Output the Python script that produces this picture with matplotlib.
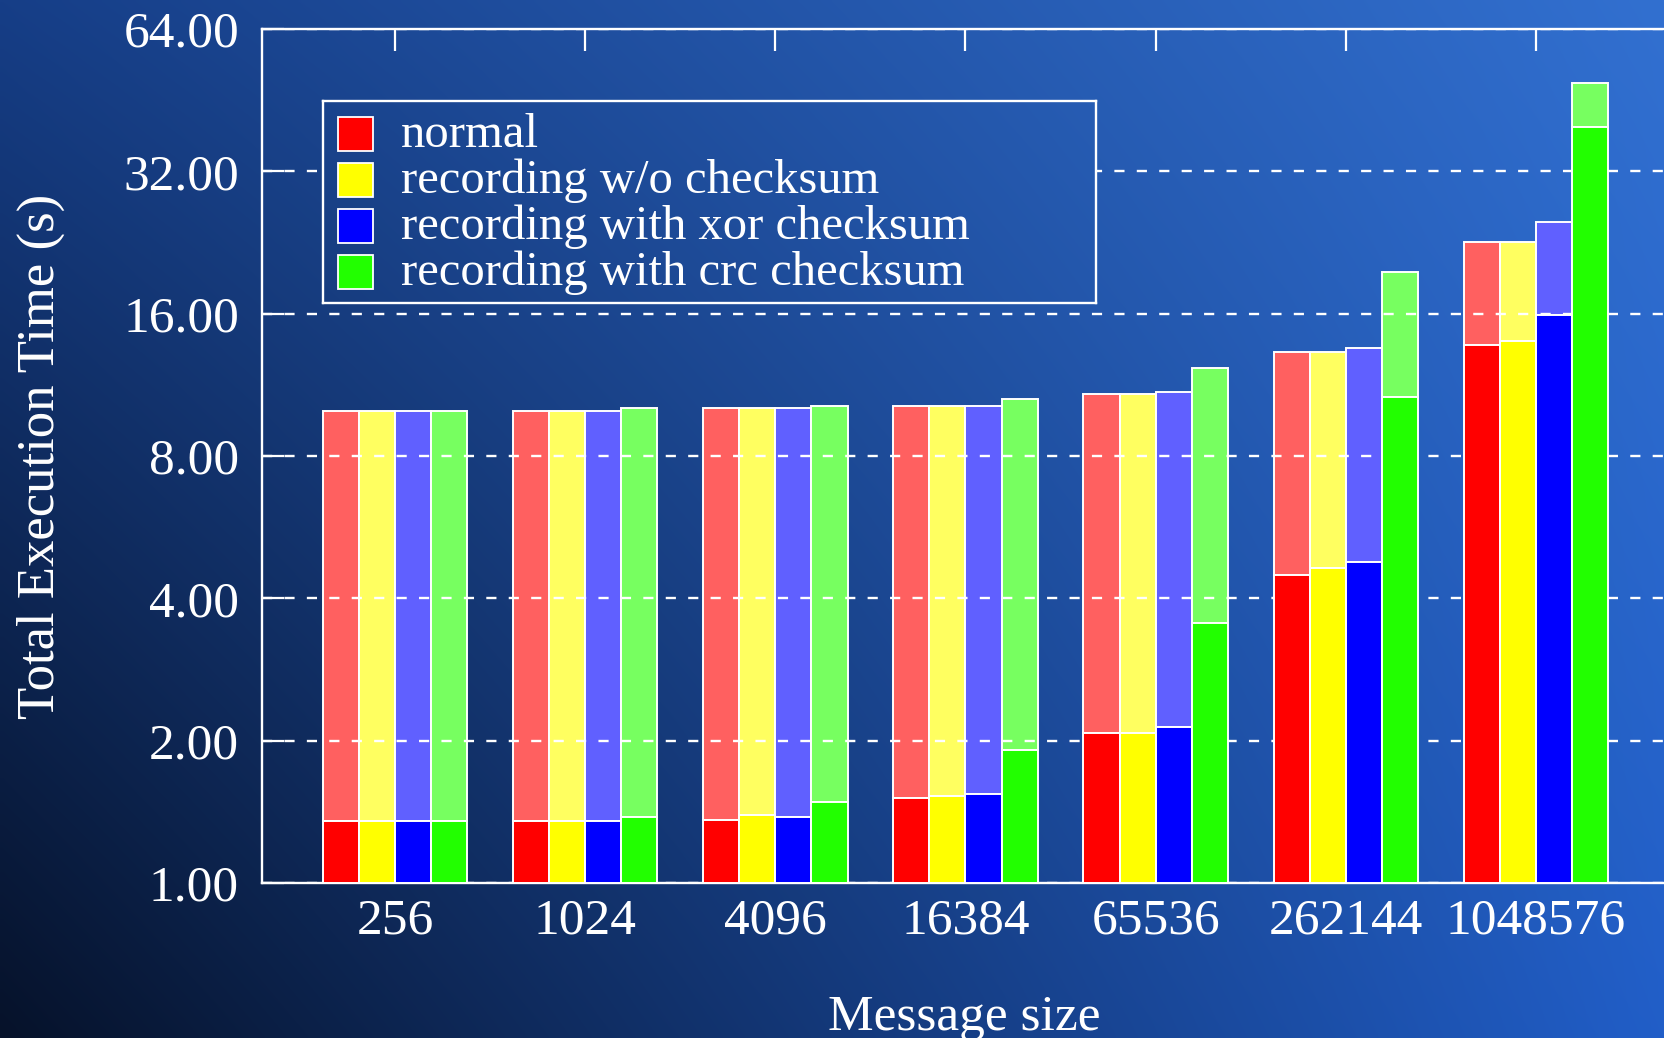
import numpy as np
import matplotlib
matplotlib.use("Agg")
import matplotlib.pyplot as plt
from matplotlib.patches import Rectangle
from matplotlib.ticker import FuncFormatter, NullLocator

plt.rcParams['font.family'] = ['Liberation Serif', 'DejaVu Serif']

# ---- data -------------------------------------------------------------
message_sizes = ['256', '1024', '4096', '16384', '65536', '262144', '1048576']
series_names = ['normal', 'recording w/o checksum',
                'recording with xor checksum', 'recording with crc checksum']

# lower (solid) part of each stacked bar
normal_lower = [1.35, 1.35, 1.36, 1.51, 2.08, 4.48, 13.74]
nochk_lower = [1.35, 1.35, 1.39, 1.525, 2.08, 4.63, 14.0]
xor_lower = [1.35, 1.35, 1.38, 1.54, 2.14, 4.77, 15.9]
crc_lower = [1.35, 1.38, 1.48, 1.91, 3.55, 10.66, 39.8]

# total height of each stacked bar
normal_total = [9.98, 9.98, 10.1, 10.21, 10.81, 13.3, 22.7]
nochk_total = [9.98, 9.98, 10.1, 10.21, 10.81, 13.3, 22.7]
xor_total = [9.98, 9.98, 10.1, 10.21, 10.93, 13.52, 25.0]
crc_total = [9.98, 10.12, 10.22, 10.55, 12.28, 19.63, 49.1]

y_ticks = [1, 2, 4, 8, 16, 32, 64]

lowers = [normal_lower, nochk_lower, xor_lower, crc_lower]
totals = [normal_total, nochk_total, xor_total, crc_total]
dark_colors = ['#ff0000', '#ffff00', '#0000ff', '#22ff00']
light_colors = ['#ff6060', '#ffff60', '#6060ff', '#77ff60']

# ---- figure & gradient backdrop --------------------------------------
W, H = 1665, 1038
fig = plt.figure(figsize=(W / 100, H / 100), dpi=100)

TL = np.array([22, 62, 135])
TR = np.array([50, 112, 208])
BL = np.array([6, 18, 42])
BR = np.array([33, 94, 200])


def gradient(x0, x1, y0, y1, n=300):
    xs = np.linspace(x0, x1, n)
    ys = np.linspace(y0, y1, n)
    X, Y = np.meshgrid(xs, ys)
    X = X[..., None]
    Y = Y[..., None]
    img = (BL * (1 - X) * (1 - Y) + BR * X * (1 - Y)
           + TL * (1 - X) * Y + TR * X * Y) / 255.0
    return np.clip(img, 0, 1)


bg = fig.add_axes([0, 0, 1, 1], zorder=-10)
bg.imshow(gradient(0, 1, 0, 1), extent=(0, 1, 0, 1), aspect='auto',
          origin='lower', interpolation='bilinear')
bg.set_axis_off()

# ---- main axes ---------------------------------------------------------
ax = fig.add_axes([262 / W, 1 - 883 / H, 1407 / W, 854 / H])
ax.patch.set_alpha(0)
ax.set_yscale('log', base=2)
ax.set_ylim(1, 64)
ax.set_xlim(-0.7, len(message_sizes) - 0.3)

bar_w = 0.19
offsets = (np.arange(4) - 1.5) * bar_w
idx = np.arange(len(message_sizes))
for k in range(4):
    lo = np.array(lowers[k])
    tot = np.array(totals[k])
    x = idx + offsets[k]
    ax.bar(x, tot - lo, bottom=lo, width=bar_w, color=light_colors[k],
           edgecolor='white', linewidth=1.4, zorder=1)
    ax.bar(x, lo - 1, bottom=1, width=bar_w, color=dark_colors[k],
           edgecolor='white', linewidth=1.4, zorder=3)

ax.set_axisbelow(False)
ax.set_yticks(y_ticks)
ax.yaxis.set_minor_locator(NullLocator())
ax.yaxis.set_major_formatter(FuncFormatter(lambda v, _: f'{v:.2f}'))
ax.set_xticks(idx)
ax.set_xticklabels(message_sizes)

ax.yaxis.grid(True, color='white', linewidth=1.7, linestyle=(0, (4.3, 5.2)))
ax.xaxis.grid(False)

ax.tick_params(axis='y', which='major', direction='in', length=16, width=1.6,
               color='white', labelcolor='white', labelsize=37, pad=16.5,
               left=True, right=False)
ax.tick_params(axis='x', which='major', direction='in', length=16, width=1.6,
               color='white', labelcolor='white', labelsize=37, pad=11,
               top=True, bottom=False, labelbottom=True)
for side in ['left', 'top', 'bottom', 'right']:
    ax.spines[side].set_color('white')
    ax.spines[side].set_linewidth(1.7)

fig.text(41 / W, 1 - 456 / H, 'Total Execution Time (s)', rotation=90,
         ha='center', va='center', fontsize=38, color='white')
fig.text(964 / W, 1 - 1030 / H, 'Message size', ha='center', va='baseline',
         fontsize=37, color='white')

# ---- key box -----------------------------------------------------------
lx0, lx1, ly0, ly1 = 323 / W, 1096 / W, 1 - 303 / H, 1 - 101 / H
lax = fig.add_axes([lx0, ly0, lx1 - lx0, ly1 - ly0], zorder=5)
lax.imshow(gradient(lx0, lx1, ly0, ly1), extent=(0, 1, 0, 1), aspect='auto',
           origin='lower', interpolation='bilinear')
lax.set_xlim(0, 1)
lax.set_ylim(0, 1)
lax.set_xticks([])
lax.set_yticks([])
for s in lax.spines.values():
    s.set_color('white')
    s.set_linewidth(1.7)

for i, name in enumerate(series_names):
    yc = 0.836 - i * 0.2278
    lax.add_patch(Rectangle((0.0194, yc - 0.0846), 0.0453, 0.169,
                            facecolor=dark_colors[i], edgecolor='white',
                            linewidth=1.3))
    lax.text(0.1005, yc - 0.065, name, va='baseline', ha='left',
             fontsize=35, color='white')

fig.savefig('out.png', dpi=100)
